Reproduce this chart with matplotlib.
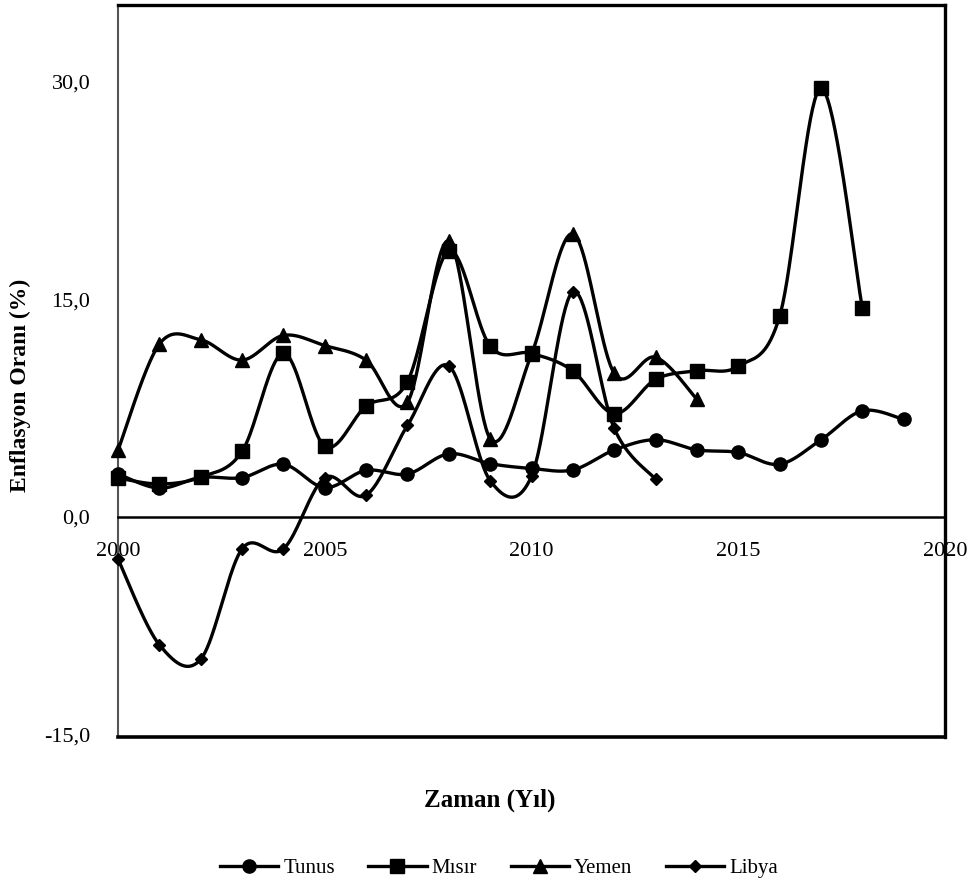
import numpy as np
import matplotlib
matplotlib.use("Agg")
import matplotlib.pyplot as plt
from matplotlib.lines import Line2D

# ---- data ----
years_tunus = list(range(2000, 2020))
tunus = [2.96, 1.98, 2.72, 2.71, 3.63, 2.02, 3.21, 2.96, 4.35, 3.67,
         3.34, 3.24, 4.61, 5.32, 4.62, 4.44, 3.63, 5.31, 7.31, 6.72]
years_misir = list(range(2000, 2019))
misir = [2.68, 2.27, 2.74, 4.51, 11.27, 4.87, 7.64, 9.32, 18.32, 11.76,
         11.27, 10.06, 7.11, 9.47, 10.07, 10.37, 13.81, 29.51, 14.40]
years_yemen = list(range(2000, 2015))
yemen = [4.6, 11.9, 12.2, 10.8, 12.5, 11.8, 10.8, 7.9, 19.0, 5.4,
         11.2, 19.5, 9.9, 11.0, 8.1]
years_libya = list(range(2000, 2014))
libya = [-2.9, -8.8, -9.8, -2.2, -2.2, 2.7, 1.5, 6.3, 10.4, 2.5,
         2.8, 15.5, 6.1, 2.6]

series_names = ["Tunus", "Mısır", "Yemen", "Libya"]
series_x = [years_tunus, years_misir, years_yemen, years_libya]
series_y = [tunus, misir, yemen, libya]
markers = ["o", "s", "^", "D"]
msizes = [9.5, 9.5, 9.5, 6.5]

yticks = [-15, 0, 15, 30]
ytick_labels = ["-15,0", "0,0", "15,0", "30,0"]
xticks = [2000, 2005, 2010, 2015, 2020]


def smooth(x, y, n=40):
    """Catmull-Rom style Bezier smoothing (like spreadsheet smoothed lines)."""
    x = np.asarray(x, float)
    y = np.asarray(y, float)
    P = np.column_stack([x, y])
    out = []
    m = len(P)
    t = np.linspace(0, 1, n)[:, None]
    for i in range(m - 1):
        p0 = P[i - 1] if i > 0 else P[i]
        p1 = P[i]
        p2 = P[i + 1]
        p3 = P[i + 2] if i + 2 < m else P[i + 1]
        c1 = p1 + (p2 - p0) / 6.0
        c2 = p2 - (p3 - p1) / 6.0
        seg = ((1 - t) ** 3) * p1 + 3 * ((1 - t) ** 2) * t * c1 + 3 * (1 - t) * t ** 2 * c2 + t ** 3 * p2
        out.append(seg if i == 0 else seg[1:])
    s = np.vstack(out)
    return s[:, 0], s[:, 1]


plt.rcParams['font.family'] = ['Liberation Serif', 'DejaVu Serif']

W, H = 968, 886
fig = plt.figure(figsize=(W / 100, H / 100), dpi=100)
left, right, top, bottom = 118, 945, 5, 737
ax = fig.add_axes([left / W, 1 - bottom / H, (right - left) / W, (bottom - top) / H])

for xs, ys, mk, ms in zip(series_x, series_y, markers, msizes):
    sx, sy = smooth(xs, ys)
    ax.plot(sx, sy, color="black", lw=2.4, clip_on=False, zorder=3)
    ax.plot(xs, ys, linestyle="none", marker=mk, markersize=ms, color="black",
            clip_on=False, zorder=4)

ax.set_xlim(2000, 2020)
ax.set_ylim(-15.15, 35.25)

ax.set_yticks(yticks)
ax.set_yticklabels(ytick_labels)
ax.set_xticks(xticks)
ax.set_xticklabels([str(v) for v in xticks])
ax.tick_params(axis="y", length=0, pad=20, labelsize=16)
ax.tick_params(axis="x", length=0, pad=18, labelsize=16)

for s in ["top", "right"]:
    ax.spines[s].set_linewidth(2.4)
    ax.spines[s].set_color("black")
ax.spines["left"].set_linewidth(1.5)
ax.spines["left"].set_color("#555555")
ax.spines["bottom"].set_position(("data", 0))
ax.spines["bottom"].set_linewidth(1.8)
ax.spines["bottom"].set_color("black")
# bottom frame line of the plot box
ax.plot([0, 1], [0, 0], transform=ax.transAxes, color="black", lw=2.6,
        clip_on=False, zorder=5)

fig.text(20 / W, 1 - 385 / H, "Enflasyon Oranı (%)", fontsize=17,
         fontweight="bold", rotation=90, ha="center", va="center")

fig.text(490 / W, 1 - 800 / H, "Zaman (Yıl)", fontsize=18, fontweight="bold",
         ha="center", va="center")

handles = [Line2D([0], [0], color="black", lw=2.4, marker=mk, markersize=ms)
           for mk, ms in zip(markers, msizes)]
fig.legend(handles, series_names, loc="center", ncol=4,
           bbox_to_anchor=(499 / W, 1 - 868 / H), frameon=False,
           fontsize=15, handlelength=2.8, columnspacing=1.6, handletextpad=0.25)

fig.savefig("out.png", dpi=100)
